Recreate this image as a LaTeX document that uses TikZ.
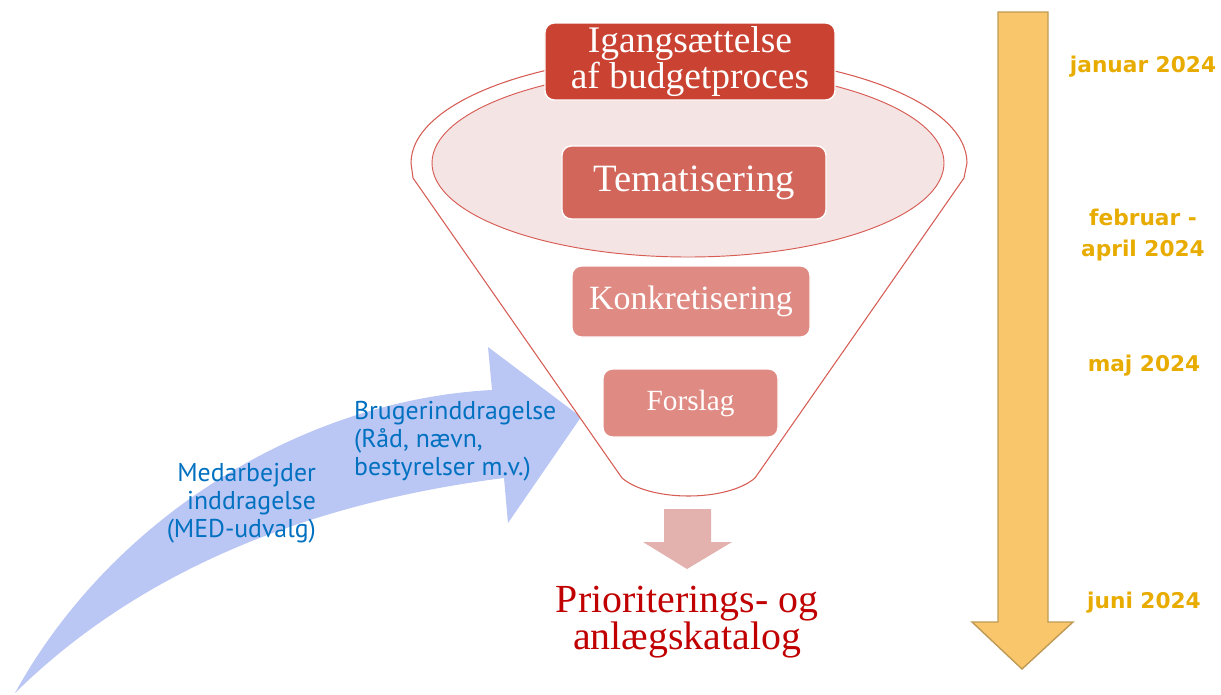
\documentclass[tikz,border=0pt]{standalone}
\usepackage{fontspec}
\setmainfont{Liberation Serif}
\newfontfamily\notefont{PT Sans}
\newfontfamily\datefont{DejaVu Sans}
\usetikzlibrary{positioning}

\definecolor{funnelline}{RGB}{214,92,84}
\definecolor{ellipsefill}{RGB}{245,228,228}
\definecolor{stagedark}{RGB}{201,66,50}
\definecolor{stagemid}{RGB}{210,102,90}
\definecolor{stagelight}{RGB}{223,138,130}
\definecolor{outarrow}{RGB}{228,178,174}
\definecolor{katalogred}{RGB}{192,0,0}
\definecolor{timefill}{RGB}{249,198,107}
\definecolor{timeline}{RGB}{191,154,85}
\definecolor{dategold}{RGB}{232,172,0}
\definecolor{inputblue}{RGB}{186,198,243}
\definecolor{noteblue}{RGB}{0,112,192}

\begin{document}
\begin{tikzpicture}[x=0.03cm,y=-0.03cm,
    stage/.style={rounded corners=8pt, draw=white, line width=1.2pt, text=white,
      align=center, inner sep=0pt},
    datelabel/.style={text=dategold, align=center,
      font=\datefont\bfseries\fontsize{18.5}{26}\selectfont},
    note/.style={text=noteblue, font=\notefont\fontsize{22}{24}\selectfont}]
  \useasboundingbox (0,0) rectangle (1221,695);

  % inddragelse
  \fill[inputblue] (15,693) .. controls (110,520) and (300,400) .. (492,390)
    -- (488,347) -- (581,417) -- (508,523) -- (504,478)
    .. controls (330,500) and (150,560) .. (15,693) -- cycle;

  % tragt
  \filldraw[fill=white, draw=funnelline, line width=0.9pt]
    (964,178) -- (755,478) .. controls (727,502) and (650,502) .. (622,478)
    -- (413,178) -- (411,163) arc [start angle=180, end angle=360, x radius=278, y radius=108]
    -- cycle;
  \draw[funnelline, line width=0.8pt, fill=ellipsefill] (688,163) ellipse [x radius=256, y radius=94];

  \node[stage, fill=stagedark, minimum width=8.7cm, minimum height=2.31cm,
    font=\fontsize{32}{30}\selectfont] (start) at (690,61.5) {Igangsættelse\\af budgetproces};
  \node[stage, fill=stagemid, minimum width=7.92cm, minimum height=2.19cm,
    font=\fontsize{33}{36}\selectfont] (tema) at (694,182.5) {Tematisering};
  \node[stage, fill=stagelight, minimum width=7.14cm, minimum height=2.13cm,
    font=\fontsize{29}{32}\selectfont] (konkret) at (691,301.5) {Konkretisering};
  \node[stage, fill=stagelight, minimum width=5.25cm, minimum height=2.04cm,
    font=\fontsize{25}{28}\selectfont] (forslag) at (690.5,403) {Forslag};

  % resultat
  \fill[outarrow] (664,509) -- (711,509) -- (711,542) -- (732,542) -- (687,569)
    -- (643,542) -- (664,542) -- cycle;
  \node[text=katalogred, align=center, font=\fontsize{34}{32}\selectfont]
    (katalog) at (687,622) {Prioriterings- og\\anlægskatalog};

  \node[note, align=right, anchor=east] (med) at (320,503)
    {Medarbejder\\inddragelse\\(MED-udvalg)};
  \node[note, align=left, anchor=west] (bruger) at (350,441)
    {Brugerinddragelse\\(Råd, nævn,\\bestyrelser m.v.)};

  % tidslinje
  \filldraw[fill=timefill, draw=timeline, line width=1.2pt]
    (998,12) -- (1048,12) -- (1048,622) -- (1073,622) -- (1022,669)
    -- (972,622) -- (998,622) -- cycle;
  \node[datelabel] (jan) at (1143,67) {januar 2024};
  \node[datelabel] (feb) at (1143,235) {februar -\\april 2024};
  \node[datelabel] (maj) at (1144,366) {maj 2024};
  \node[datelabel] (jun) at (1144,603) {juni 2024};
\end{tikzpicture}
\end{document}
